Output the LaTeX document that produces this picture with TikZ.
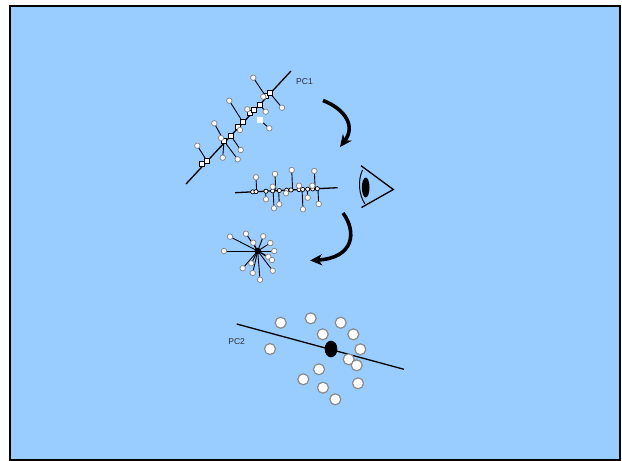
\documentclass[tikz,border=0pt]{standalone}
\usepackage{fontspec}
\setmainfont{Liberation Sans}
\usetikzlibrary{calc,arrows.meta}
\definecolor{panel}{HTML}{99CCFF}
\definecolor{ring}{HTML}{8A8A8A}
\definecolor{labelgray}{HTML}{2A2F38}
\begin{document}
\begin{tikzpicture}[x=1pt,y=-1pt,
  sat/.style={circle,draw=ring,fill=white,line width=0.8pt,inner sep=0pt,minimum size=5.5pt},
  onaxis/.style={rectangle,draw=black,fill=white,line width=0.8pt,inner sep=0pt,minimum size=5pt},
  tick/.style={circle,draw=black,fill=white,line width=0.7pt,inner sep=0pt,minimum size=4.2pt},
  ghost/.style={rectangle,fill=white,inner sep=0pt,minimum size=6pt},
  pt2/.style={circle,draw=ring,fill=white,line width=1.2pt,inner sep=0pt,minimum width=10pt,minimum height=11pt},
  stem/.style={black,line width=0.9pt},
  axisline/.style={black,line width=1.3pt},
  bigarrow/.style={black,line width=3.6pt,-{Stealth[length=12pt,width=11pt,inset=3.5pt]}},
  axlabel/.style={text=labelgray,font=\fontsize{8.5}{10}\selectfont,inner sep=0pt}]

% page and panel
\useasboundingbox (0,0) rectangle (622,461);
\fill[white] (0,0) rectangle (622,461);
\filldraw[fill=panel,draw=black,line width=2pt] (9.5,5.5) rectangle (619.5,459.5);

% ---------- first principal axis, tilted ----------
\coordinate (a1) at (186,184);
\coordinate (b1) at (291,71);
\draw[axisline] (a1) -- (b1);
\node[axlabel] (pc1) at (304.5,81.5) {PC1};

% projections on the axis
\foreach \n/\px/\py in {q1/202/164, q2/207/161, q3/224/141, q4/231/136, q5/238/127,
                        q6/242.5/121.5, q7/250/112.5, q8/254/109.5, q9/259.5/104.5,
                        q10/265.5/96, q11/269.5/92.5}
  \coordinate (\n) at (\px,\py);
\node[ghost] (ws) at (260,120) {};

% observations and their links to the axis
\foreach \n/\px/\py/\q in {s1/253.3/77.7/q10, s2/282/107.7/q11, s3/263.3/96.7/q10,
                           s4/265.7/111.7/q9, s5/247.3/109.3/q7, s6/269.3/128.3/ws,
                           s7/229.3/100.7/q6, s8/240/130/q5, s9/214.3/123.3/q3,
                           s10/237.7/159.3/q3, s11/240.7/150/q4, s12/221/138/q3,
                           s13/222.7/157.7/q3, s14/197.3/145.7/q2}
{
  \coordinate (\n) at (\px,\py);
  \draw[stem] (\n) -- (\q);
}
\foreach \n in {q1,q2,q3,q4,q5,q6,q7,q8,q9,q10,q11}
  \node[onaxis] at (\n) {};
\foreach \n in {s1,s2,s3,s4,s5,s6,s7,s8,s9,s10,s11,s12,s13,s14}
  \node[sat] at (\n) {};

% ---------- the same axis turned horizontal ----------
\coordinate (a2) at (235,192.7);
\coordinate (b2) at (337.7,187.7);
\draw[axisline] (a2) -- (b2);
\foreach \n/\px/\py in {m1/256/177.3, m2/266/199.3, m3/275/174, m4/274/208.3,
                        m5/272.7/186.7, m6/279.3/204.3, m7/291.7/170, m8/286/193.3,
                        m9/299/185.7, m10/303/209.3, m11/307.7/197.7, m12/314.3/171,
                        m13/312.3/185.7, m14/318.7/204}
{
  \coordinate (\n) at (\px,\py);
  \coordinate (\n f) at ($(a2)!(\n)!(b2)$);
  \draw[stem] (\n) -- (\n f);
}
\foreach \n/\tx in {t1/252.7, t2/256, t3/266, t4/272.7, t5/279.3, t6/286.7,
                    t7/291, t8/299, t9/302.7, t10/307.7, t11/312.7, t12/317.3}
  \node[tick] (\n) at ($(a2)!{(\tx-235)/102.7}!(b2)$) {};
\foreach \n in {m1,m2,m3,m4,m5,m6,m7,m8,m9,m10,m11,m12,m13,m14}
  \node[sat] at (\n) {};

% ---------- eye looking along the axis ----------
\coordinate (eyetop) at (361,165.7);
\coordinate (eyetip) at (393.3,189.5);
\coordinate (eyebot) at (361.5,207.5);
\draw[black,line width=1.3pt] (eyetop) -- (eyetip) -- (eyebot);
\draw[black,line width=1pt] (362.5,170) .. controls (357.5,181) and (359,195) .. (365,204);
\fill[black] (365.7,187.5) ellipse [x radius=3.8pt, y radius=10pt];

% ---------- view along the axis: residuals around one point ----------
\node[circle,fill=black,inner sep=0pt,minimum size=6.5pt] (hub) at (257.7,251) {};
\foreach \n/\px/\py in {r1/224/251, r2/230/236.7, r3/246/233.7, r4/253.3/242.7,
                        r5/263.3/236.3, r6/270.3/243, r7/274.3/251, r8/268.3/256.7,
                        r9/272/260, r10/272.7/270.7, r11/260/279.7, r12/252.7/273,
                        r13/242.7/268.3, r14/251.3/263.3}
{
  \coordinate (\n) at (\px,\py);
  \draw[stem] (hub.center) -- (\n);
}
\foreach \n in {r1,r2,r3,r4,r5,r6,r7,r8,r9,r10,r11,r12,r13,r14}
  \node[sat] at (\n) {};

% ---------- second principal axis ----------
\coordinate (a3) at (236.7,324);
\coordinate (b3) at (404,369.3);
\draw[axisline] (a3) -- (b3);
\node[axlabel] (pc2) at (236.7,341.7) {PC2};
\fill[black] (331,349) ellipse [x radius=6.3pt, y radius=8.3pt];
\foreach \n/\px/\py in {p1/280.7/322.7, p2/310.7/318.3, p3/340.7/322.7, p4/322.7/334.3,
                        p5/353.3/334.3, p6/270/349, p7/360.3/349.3, p8/348.7/359.3,
                        p9/356.7/365.3, p10/319/369.3, p11/303.3/379.3, p12/323/387.7,
                        p13/358/383.3, p14/335.3/399.3}
  \node[pt2] (\n) at (\px,\py) {};

% ---------- rotation arrows ----------
\coordinate (r1s) at (323,100.5);
\coordinate (r1e) at (340,147);
\draw[bigarrow] (r1s) .. controls (345,109) and (356,126) .. (r1e);
\coordinate (r2s) at (343,213);
\coordinate (r2e) at (310,260.5);
\draw[bigarrow] (r2s) .. controls (357,232) and (354,258) .. (r2e);

\end{tikzpicture}
\end{document}
